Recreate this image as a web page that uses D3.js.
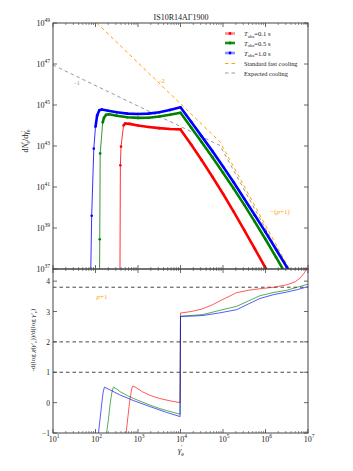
<!DOCTYPE html>
<html>
<head>
<meta charset="utf-8">
<script src="https://cdn.jsdelivr.net/npm/d3@7"></script>
<style>
  body { margin: 0; background: #fff; }
  svg { display: block; }
  text { font-family: "Liberation Serif", "DejaVu Serif", serif; fill: #222; }
</style>
</head>
<body>
<script>
// spectra dN'/dgamma' as [log10 gamma', log10 dN/dgamma]
const spec01 = [[2.575,36.5],[2.585,42.06],[2.6,42.97],[2.66,44.0],[2.7,44.1],[2.8,44.08],[3.0,44.0],[3.25,43.93],[3.5,43.87],[3.75,43.83],[4.0,43.81],[4.25,43.07],[4.5,42.3],[4.75,41.5],[5.0,40.67],[5.25,39.8],[5.5,38.9],[5.75,37.98],[6.0,37.05],[6.1,36.66]];
const spec05 = [[2.095,36.5],[2.10,38.45],[2.11,42.64],[2.17,44.15],[2.2,44.38],[2.25,44.52],[2.32,44.55],[2.5,44.48],[2.75,44.4],[3.0,44.37],[3.25,44.38],[3.5,44.44],[3.75,44.52],[4.0,44.62],[4.25,43.9],[4.5,43.18],[4.75,42.45],[5.0,41.7],[5.25,40.93],[5.5,40.13],[5.75,39.3],[6.0,38.45],[6.25,37.57],[6.45,36.85]];
const spec10 = [[1.885,36.5],[1.91,39.6],[1.96,42.87],[2.0,43.94],[2.04,44.5],[2.09,44.74],[2.15,44.78],[2.3,44.72],[2.5,44.65],[2.75,44.58],[3.0,44.56],[3.25,44.58],[3.5,44.65],[3.75,44.76],[4.0,44.89],[4.25,44.18],[4.5,43.47],[4.75,42.75],[5.0,42.0],[5.25,41.23],[5.5,40.43],[5.75,39.62],[6.0,38.8],[6.25,37.95],[6.5,37.1],[6.6,36.75]];
const fastCooling = [[2.03,49],[4.93,43.2],[6.6,36.85]];
const expectedCooling = [[1.0,46.95],[4.93,43.02],[6.56,36.85]];

// local index -d log / d log gamma' as [log10 gamma', index]
const idx01 = [[2.71,-1.3],[2.72,-1],[2.76,-0.5],[2.8,0],[2.85,0.45],[2.88,0.55],[2.95,0.5],[3.1,0.36],[3.3,0.23],[3.5,0.14],[3.75,0.06],[3.99,0.0],[4.0,2.95],[4.25,3.0],[4.5,3.08],[4.75,3.22],[5.0,3.4],[5.32,3.62],[5.6,3.7],[5.87,3.75],[6.2,3.8],[6.5,3.88],[6.7,3.98],[6.81,4.1],[6.9,4.25],[6.97,4.4],[7.0,4.5]];
const idx05 = [[2.25,-1.3],[2.26,-1],[2.3,-0.6],[2.34,-0.1],[2.38,0.3],[2.42,0.51],[2.5,0.45],[2.58,0.36],[2.75,0.23],[2.89,0.14],[3.1,0.02],[3.28,-0.08],[3.5,-0.19],[3.67,-0.26],[3.85,-0.33],[3.99,-0.38],[4.0,2.84],[4.25,2.87],[4.53,2.9],[4.9,3.03],[5.32,3.17],[5.6,3.35],[5.87,3.52],[6.2,3.63],[6.5,3.7],[6.75,3.8],[7.0,3.9]];
const idx10 = [[2.06,-1.3],[2.07,-1],[2.11,-0.5],[2.15,0.0],[2.18,0.35],[2.21,0.51],[2.34,0.42],[2.58,0.25],[2.89,0.07],[3.28,-0.13],[3.67,-0.32],[3.99,-0.46],[4.0,2.84],[4.3,2.85],[4.53,2.87],[4.9,2.95],[5.32,3.06],[5.6,3.25],[5.87,3.43],[6.2,3.56],[6.5,3.64],[6.75,3.72],[7.0,3.82]];
const refIndex = [1, 2, 3.8];

const seriesNames = ["0.1", "0.5", "1.0"];
const seriesColors = ["#ff0000", "#008000", "#0000ff"];
const thickFrom = [3, 3, 3]; // point where the spectrum line turns thick
const xExp = [1, 2, 3, 4, 5, 6, 7];
const yTopExp = [37, 39, 41, 43, 45, 47, 49];
const yBotTicks = [-1, 0, 1, 2, 3, 4];

const width = 353, height = 471;
const L = 53, R = 308, T = 23, MID = 269, B = 433;

const svg = d3.select("body").append("svg")
  .attr("width", width).attr("height", height);

const x = d3.scaleLog().domain([1e1, 1e7]).range([L, R]);
const yTop = d3.scaleLog().domain([1e37, 1e49]).range([MID, T]);
const yBot = d3.scaleLinear().domain([-1, 4.4]).range([B, MID]);

const defs = svg.append("defs");
defs.append("clipPath").attr("id", "clipTop").append("rect")
  .attr("x", L).attr("y", T).attr("width", R - L).attr("height", MID - T);
defs.append("clipPath").attr("id", "clipBot").append("rect")
  .attr("x", L).attr("y", MID).attr("width", R - L).attr("height", B - MID);

const lineTop = d3.line().x(d => x(10 ** d[0])).y(d => yTop(10 ** d[1]));
const lineBot = d3.line().x(d => x(10 ** d[0])).y(d => yBot(d[1]));

// ---- top panel
const gTop = svg.append("g").attr("clip-path", "url(#clipTop)");

gTop.append("path").attr("d", lineTop(fastCooling))
  .attr("fill", "none").attr("stroke", "orange").attr("stroke-width", 1)
  .attr("stroke-dasharray", "3.5,3");
gTop.append("path").attr("d", lineTop(expectedCooling))
  .attr("fill", "none").attr("stroke", "#999").attr("stroke-width", 1)
  .attr("stroke-dasharray", "3.5,3");

[spec01, spec05, spec10].forEach((s, i) => {
  const k = thickFrom[i];
  gTop.append("path").attr("d", lineTop(s.slice(0, k + 1)))
    .attr("fill", "none").attr("stroke", seriesColors[i]).attr("stroke-width", 1)
    .attr("stroke-opacity", 0.8);
  gTop.append("path").attr("d", lineTop(s.slice(k)))
    .attr("fill", "none").attr("stroke", seriesColors[i]).attr("stroke-width", 2.6)
    .attr("stroke-linejoin", "round");
  gTop.selectAll(null).data(s).enter().append("circle")
    .attr("cx", d => x(10 ** d[0])).attr("cy", d => yTop(10 ** d[1]))
    .attr("r", 1.3).attr("fill", seriesColors[i]);
});

// slope labels
svg.append("text").attr("x", 77).attr("y", 85).attr("font-size", 7)
  .attr("text-anchor", "middle").style("fill", "#999").text("-1");
svg.append("text").attr("x", 162).attr("y", 83).attr("font-size", 7)
  .attr("text-anchor", "middle").style("fill", "orange").text("-2");
const pl = svg.append("text").attr("x", 280).attr("y", 214).attr("font-size", 7)
  .attr("text-anchor", "middle").style("fill", "orange");
pl.append("tspan").text("\u2212(");
pl.append("tspan").attr("font-style", "italic").text("p");
pl.append("tspan").text("+1)");

// ---- bottom panel
const gBot = svg.append("g").attr("clip-path", "url(#clipBot)");
refIndex.forEach(v => {
  gBot.append("line").attr("x1", L).attr("x2", R)
    .attr("y1", yBot(v)).attr("y2", yBot(v))
    .attr("stroke", "#333").attr("stroke-width", 0.9).attr("stroke-dasharray", "3.5,3");
});
[idx01, idx05, idx10].forEach((s, i) => {
  gBot.append("path").attr("d", lineBot(s))
    .attr("fill", "none").attr("stroke", seriesColors[i]).attr("stroke-width", 1)
    .attr("stroke-opacity", 0.65);
});
const pp = svg.append("text").attr("x", 102).attr("y", 299).attr("font-size", 7)
  .attr("text-anchor", "middle").style("fill", "orange");
pp.append("tspan").attr("font-style", "italic").text("p");
pp.append("tspan").text("+1");

// ---- frames and ticks
const axisColor = "#444";
[[T, MID], [MID, B]].forEach(([t, b]) => {
  svg.append("rect").attr("x", L).attr("y", t).attr("width", R - L).attr("height", b - t)
    .attr("fill", "none").attr("stroke", axisColor).attr("stroke-width", 1);
  xExp.forEach(e => {
    const px = x(10 ** e);
    [[b, -4], [t, 4]].forEach(([yy, len]) => {
      svg.append("line").attr("x1", px).attr("x2", px).attr("y1", yy).attr("y2", yy + len)
        .attr("stroke", axisColor).attr("stroke-width", 0.8);
    });
    if (e < 7) {
      d3.range(2, 10).forEach(k => {
        const mx = x(k * 10 ** e);
        [[b, -2], [t, 2]].forEach(([yy, len]) => {
          svg.append("line").attr("x1", mx).attr("x2", mx).attr("y1", yy).attr("y2", yy + len)
            .attr("stroke", axisColor).attr("stroke-width", 0.6);
        });
      });
    }
  });
});

function yTick(py) {
  svg.append("line").attr("x1", L).attr("x2", L + 4).attr("y1", py).attr("y2", py)
    .attr("stroke", axisColor).attr("stroke-width", 0.8);
  svg.append("line").attr("x1", R).attr("x2", R - 4).attr("y1", py).attr("y2", py)
    .attr("stroke", axisColor).attr("stroke-width", 0.8);
}

yTopExp.forEach(e => {
  const py = yTop(10 ** e);
  yTick(py);
  const t = svg.append("text").attr("x", 50).attr("y", py + 3).attr("font-size", 8)
    .attr("text-anchor", "end");
  t.append("tspan").text("10");
  t.append("tspan").attr("dy", -4).attr("font-size", 5.5).text(e);
});

yBotTicks.forEach(v => {
  const py = yBot(v);
  yTick(py);
  svg.append("text").attr("x", 50).attr("y", py + 3).attr("font-size", 7.5)
    .attr("text-anchor", "end").text(v < 0 ? "\u2212" + Math.abs(v) : v);
});

xExp.forEach(e => {
  const t = svg.append("text").attr("x", x(10 ** e) + 1).attr("y", 442).attr("font-size", 8)
    .attr("text-anchor", "middle");
  t.append("tspan").text("10");
  t.append("tspan").attr("dy", -4).attr("font-size", 5.5).text(e);
});

// ---- title and axis labels
svg.append("text").attr("x", 181).attr("y", 20).attr("font-size", 8)
  .attr("text-anchor", "middle").text("IS10R14A\u03931900");

const xl = svg.append("text").attr("x", 181).attr("y", 453).attr("font-size", 8.5)
  .attr("text-anchor", "middle");
xl.append("tspan").attr("font-style", "italic").text("\u03b3");
xl.append("tspan").attr("dy", 3).attr("font-size", 6).text("e");
xl.append("tspan").attr("dy", -7).attr("dx", -3).attr("font-size", 6).text("\u2032");

const yl1 = svg.append("text").attr("transform", "translate(28,141) rotate(-90)")
  .attr("font-size", 8).attr("text-anchor", "middle");
yl1.append("tspan").text("d");
yl1.append("tspan").attr("font-style", "italic").text("N");
yl1.append("tspan").attr("dy", -3).attr("font-size", 5.5).text("\u2032");
yl1.append("tspan").attr("dy", 5).attr("dx", -1.5).attr("font-size", 5.5).text("e");
yl1.append("tspan").attr("dy", -2).text("/d");
yl1.append("tspan").attr("font-style", "italic").text("\u03b3");
yl1.append("tspan").attr("dy", -3).attr("font-size", 5.5).text("\u2032");
yl1.append("tspan").attr("dy", 5).attr("dx", -1.5).attr("font-size", 5.5).text("e");

const yl2 = svg.append("text").attr("transform", "translate(35,340) rotate(-90)")
  .attr("font-size", 7).attr("text-anchor", "middle");
yl2.append("tspan").text("-d(log ");
yl2.append("tspan").attr("font-style", "italic").text("\u03c7");
yl2.append("tspan").text("(");
yl2.append("tspan").attr("font-style", "italic").text("\u03b3\u2032");
yl2.append("tspan").attr("dy", 2).attr("font-size", 5).text("e");
yl2.append("tspan").attr("dy", -2).text("))/d(log ");
yl2.append("tspan").attr("font-style", "italic").text("\u03b3\u2032");
yl2.append("tspan").attr("dy", 2).attr("font-size", 5).text("e");
yl2.append("tspan").attr("dy", -2).text(")");

// ---- legend
const legendRows = [
  { kind: "curve", i: 0, y: 33.5 },
  { kind: "curve", i: 1, y: 43 },
  { kind: "curve", i: 2, y: 53 },
  { kind: "fast", y: 63.5 },
  { kind: "expected", y: 73 }
];
const legendOpacity = [0.45, 0.9, 0.45];
legendRows.forEach(r => {
  if (r.kind === "curve") {
    svg.append("line").attr("x1", 225).attr("x2", 235).attr("y1", r.y).attr("y2", r.y)
      .attr("stroke", seriesColors[r.i]).attr("stroke-width", 2.6)
      .attr("stroke-opacity", legendOpacity[r.i]);
    svg.append("circle").attr("cx", 230).attr("cy", r.y).attr("r", 1.4)
      .attr("fill", seriesColors[r.i]);
    const t = svg.append("text").attr("x", 244).attr("y", r.y + 2.5).attr("font-size", 6.6);
    t.append("tspan").attr("font-style", "italic").text("T");
    t.append("tspan").attr("dy", 1.5).attr("font-size", 4.8).text("obs");
    t.append("tspan").attr("dy", -1.5).text("=" + seriesNames[r.i] + " s");
  } else {
    svg.append("line").attr("x1", 225).attr("x2", 236).attr("y1", r.y).attr("y2", r.y)
      .attr("stroke", r.kind === "fast" ? "orange" : "#999").attr("stroke-width", 1)
      .attr("stroke-dasharray", "3.5,3");
    svg.append("text").attr("x", 244).attr("y", r.y + 2.5).attr("font-size", 6.3)
      .text(r.kind === "fast" ? "Standard fast cooling" : "Expected cooling");
  }
});
</script>
</body>
</html>
